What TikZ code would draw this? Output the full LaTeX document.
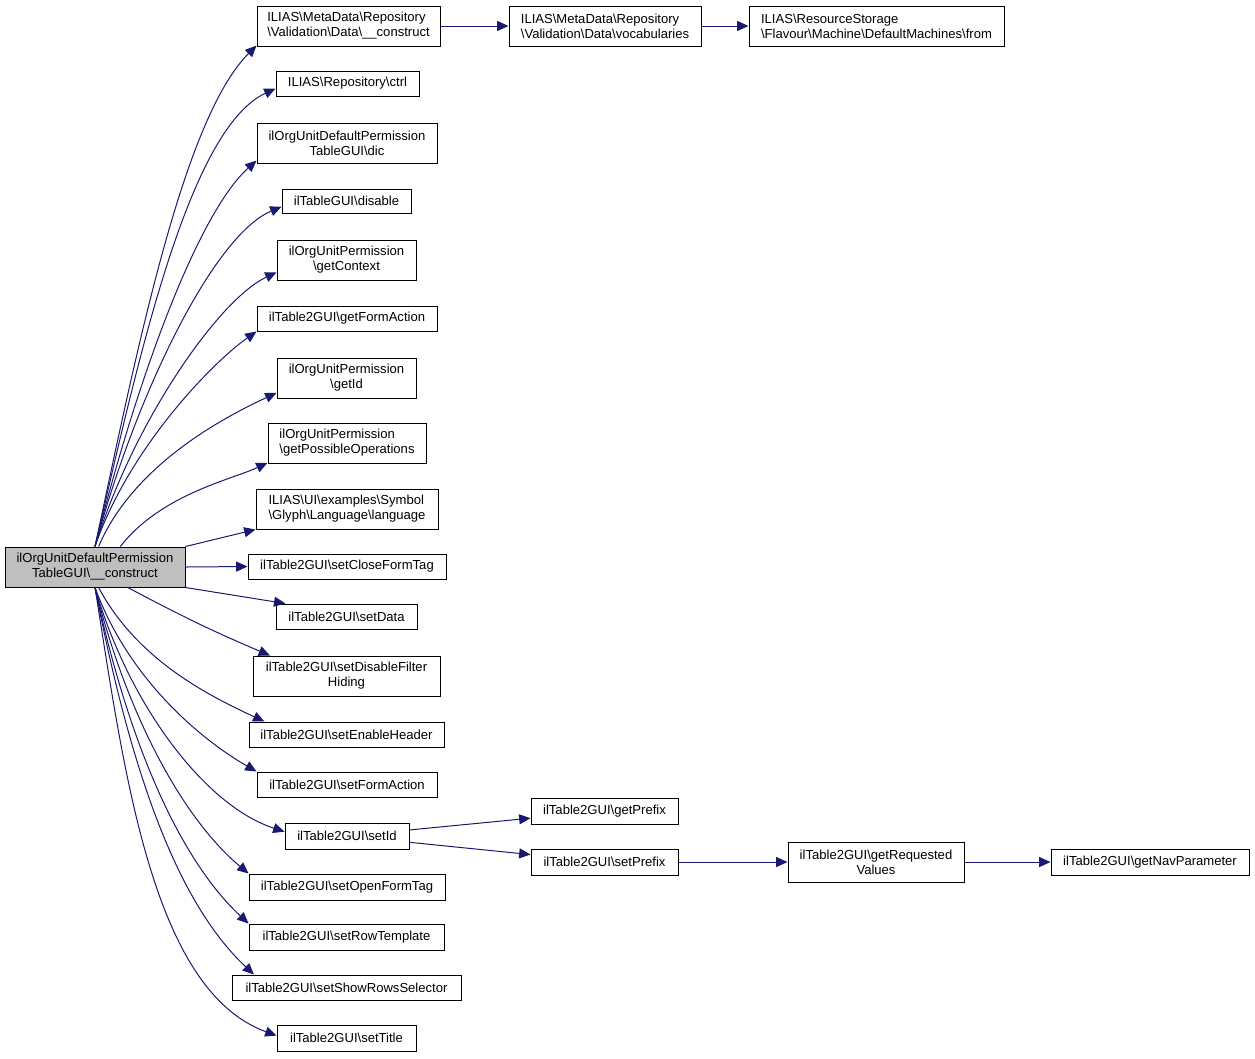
\documentclass[tikz,border=0pt]{standalone}
\usepackage{fontspec}
\setmainfont{Liberation Sans}
\usepackage{xcolor}
\usepackage{tikz}
\usetikzlibrary{arrows.meta, positioning}

\definecolor{edgeblue}{HTML}{191970}
\definecolor{mainfill}{HTML}{BFBFBF}
\newcommand{\bs}{\textbackslash}

\tikzset{
  fn/.style={draw=black, line width=0.75pt, inner sep=0pt, minimum height=18.75pt,
    font=\fontsize{9.8pt}{11.25pt}\selectfont},
  fntwo/.style={fn, minimum height=30pt, align=center},
  fnleft/.style={fn, minimum height=30pt, align=left},
  call/.style={draw=edgeblue, line width=0.75pt, -{Triangle[length=8.5pt, width=7.5pt]}}
}

\begin{document}
\begin{tikzpicture}[x=0.75pt, y=0.75pt]
  \useasboundingbox (0,0) rectangle (1255,-1058);

  % the constructor
  \node[fntwo, fill=mainfill, minimum width=135pt] (main) at (95,-567) {ilOrgUnitDefaultPermission\\TableGUI\bs\_\_construct};

  % called functions
  \node[fnleft, minimum width=137.25pt] (dataconstruct) at (348.5,-26) {ILIAS\bs MetaData\bs Repository\\\bs Validation\bs Data\bs\_\_construct};
  \node[fnleft, minimum width=144pt] (vocabularies) at (605,-26) {ILIAS\bs MetaData\bs Repository\\\bs Validation\bs Data\bs vocabularies};
  \node[fnleft, minimum width=191.25pt] (from) at (876.5,-26) {ILIAS\bs ResourceStorage\\\bs Flavour\bs Machine\bs DefaultMachines\bs from};
  \node[fn, minimum width=107.25pt] (ctrl) at (347.5,-83.5) {ILIAS\bs Repository\bs ctrl};
  \node[fntwo, minimum width=135pt] (dic) at (347,-143) {ilOrgUnitDefaultPermission\\TableGUI\bs dic};
  \node[fn, minimum width=96.75pt, minimum height=18pt] (disable) at (346.5,-201) {ilTableGUI\bs disable};
  \node[fntwo, minimum width=104.25pt] (getcontext) at (346.5,-260) {ilOrgUnitPermission\\\bs getContext};
  \node[fn, minimum width=135pt] (getformaction) at (347,-318.5) {ilTable2GUI\bs getFormAction};
  \node[fntwo, minimum width=104.25pt] (getid) at (346.5,-378) {ilOrgUnitPermission\\\bs getId};
  \node[fnleft, minimum width=118.5pt] (getpossibleops) at (347,-443) {ilOrgUnitPermission\\\bs getPossibleOperations};
  \node[fnleft, minimum width=136.5pt] (language) at (347,-509) {ILIAS\bs UI\bs examples\bs Symbol\\\bs Glyph\bs Language\bs language};
  \node[fn, minimum width=148.5pt] (setcloseformtag) at (347,-566.5) {ilTable2GUI\bs setCloseFormTag};
  \node[fn, minimum width=105.75pt] (setdata) at (346.5,-616.5) {ilTable2GUI\bs setData};
  \node[fntwo, minimum width=140.25pt] (setdisablefilter) at (346.5,-676) {ilTable2GUI\bs setDisableFilter\\Hiding};
  \node[fn, minimum width=146.25pt] (setenableheader) at (346.5,-734.5) {ilTable2GUI\bs setEnableHeader};
  \node[fn, minimum width=135pt] (setformaction) at (347,-784.5) {ilTable2GUI\bs setFormAction};
  \node[fn, minimum width=93pt, minimum height=19.5pt] (setid) at (347,-836) {ilTable2GUI\bs setId};
  \node[fn, minimum width=147pt, minimum height=19.5pt] (setopenformtag) at (347,-887) {ilTable2GUI\bs setOpenFormTag};
  \node[fn, minimum width=146.25pt, minimum height=19.5pt] (setrowtemplate) at (346.5,-937) {ilTable2GUI\bs setRowTemplate};
  \node[fn, minimum width=171.75pt] (setshowrows) at (346.5,-987.5) {ilTable2GUI\bs setShowRowsSelector};
  \node[fn, minimum width=104.25pt, minimum height=19.5pt] (settitle) at (346.5,-1038) {ilTable2GUI\bs setTitle};

  % second level
  \node[fn, minimum width=110.25pt, minimum height=19.5pt] (getprefix) at (604.5,-811) {ilTable2GUI\bs getPrefix};
  \node[fn, minimum width=110.25pt, minimum height=19.5pt] (setprefix) at (604.5,-862) {ilTable2GUI\bs setPrefix};
  \node[fntwo, minimum width=132pt] (getrequested) at (876,-862) {ilTable2GUI\bs getRequested\\Values};
  \node[fn, minimum width=148.5pt, minimum height=19.5pt] (getnavparam) at (1150,-862) {ilTable2GUI\bs getNavParameter};

  % calls above the constructor
  \draw[call] (main.north) to[out=78, in=225, in looseness=0.5] (dataconstruct.192);
  \draw[call] (main.north) to[out=77, in=205, in looseness=0.5] (ctrl.184);
  \draw[call] (main.north) to[out=76, in=222, in looseness=0.5] (dic.191);
  \draw[call] (main.north) to[out=75, in=203, in looseness=0.5] (disable.185);
  \draw[call] (main.north) to[out=73, in=205, in looseness=0.5] (getcontext.190);
  \draw[call] (main.north) to[out=71, in=215, in looseness=0.5] (getformaction.south west);
  \draw[call] (main.80) to[out=67, in=205, in looseness=0.55] (getid.192);
  \draw[call] (main.39) to[out=52, in=205, in looseness=0.6] (getpossibleops.194);
  \draw[call] (main.north east) -- (language.south west);
  \draw[call] (main.east) -- (setcloseformtag.west);
  \draw[call] (main.south east) -- (setdata.168);

  % calls below the constructor
  \draw[call] (main.-32) to[out=-28, in=157] (setdisablefilter.165);
  \draw[call] (main.-80) to[out=-62, in=155, in looseness=0.7] (setenableheader.171);
  \draw[call] (main.south) to[out=-70, in=150, in looseness=0.7] (setformaction.north west);
  \draw[call] (main.south) to[out=-74, in=162, in looseness=0.7] (setid.176);
  \draw[call] (main.south) to[out=-76, in=140, in looseness=0.7] (setopenformtag.north west);
  \draw[call] (main.south) to[out=-78, in=137, in looseness=0.7] (setrowtemplate.north west);
  \draw[call] (main.south) to[out=-79, in=137, in looseness=0.7] (setshowrows.172);
  \draw[call] (main.south) to[out=-81, in=160, in looseness=0.7] (settitle.178);

  % further calls
  \draw[call] (dataconstruct) -- (vocabularies);
  \draw[call] (vocabularies) -- (from);
  \draw[call] (setid) -- (getprefix);
  \draw[call] (setid) -- (setprefix);
  \draw[call] (setprefix) -- (getrequested);
  \draw[call] (getrequested) -- (getnavparam);
\end{tikzpicture}
\end{document}
